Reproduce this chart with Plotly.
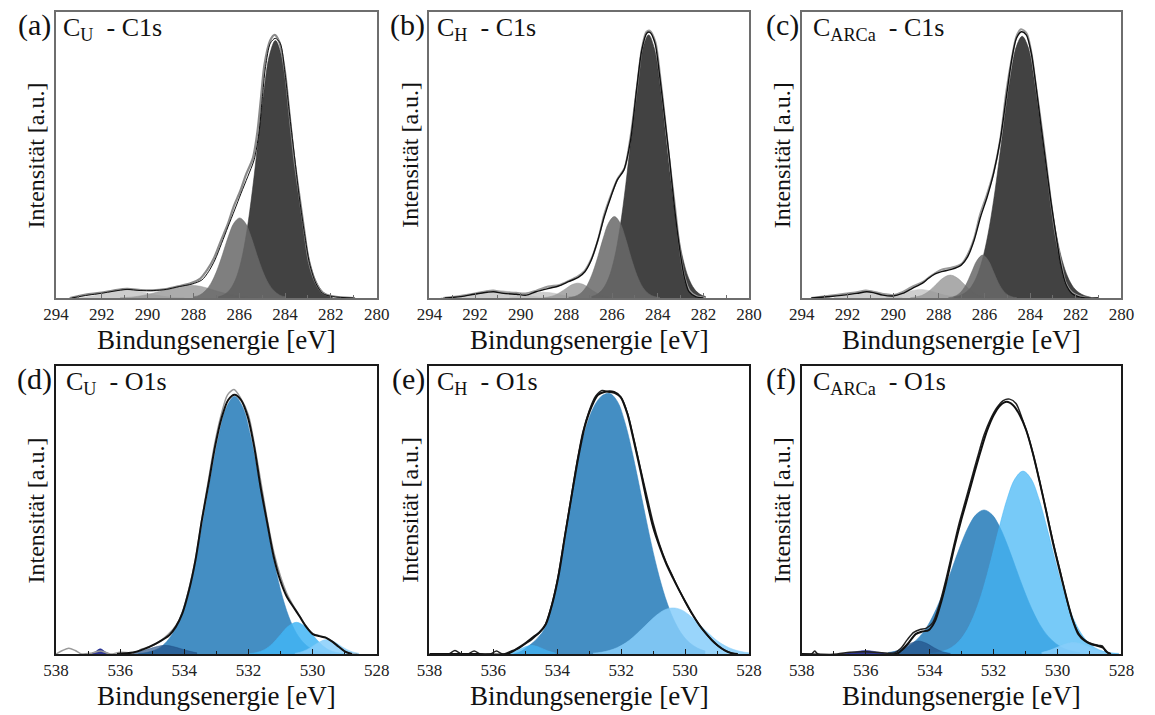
import plotly.graph_objects as go

# ---------------- Panel (a): C_U - C1s ----------------
A_DARK_X = [286.92, 286.67, 286.42, 286.17, 285.92, 285.67, 285.42, 285.17, 284.92, 284.67, 284.42, 284.17, 283.92, 283.67, 283.42, 283.17, 282.92, 282.67, 282.42, 282.17, 281.92]
A_DARK_Y = [0.004, 0.011, 0.028, 0.063, 0.128, 0.233, 0.379, 0.553, 0.725, 0.852, 0.900, 0.852, 0.725, 0.553, 0.379, 0.233, 0.128, 0.063, 0.028, 0.011, 0.004]
A_MED_X = [287.98, 287.73, 287.48, 287.23, 286.98, 286.73, 286.48, 286.23, 285.98, 285.73, 285.48, 285.23, 284.98, 284.73, 284.48, 284.23, 283.98]
A_MED_Y = [0.004, 0.010, 0.025, 0.052, 0.095, 0.152, 0.214, 0.262, 0.280, 0.262, 0.214, 0.152, 0.095, 0.052, 0.025, 0.010, 0.004]
A_LIGHT_X = [291.2, 290.7, 290.2, 289.7, 289.2, 288.7, 288.2, 287.7, 287.2, 286.7, 286.2, 285.7, 285.2]
A_LIGHT_Y = [0.001, 0.003, 0.009, 0.018, 0.030, 0.041, 0.045, 0.041, 0.030, 0.018, 0.009, 0.003, 0.001]
A_PALE_X = [293.4, 292.9, 292.4, 291.9, 291.4, 290.9, 290.4, 289.9, 289.4, 288.9, 288.4]
A_PALE_Y = [0.001, 0.002, 0.007, 0.015, 0.024, 0.028, 0.024, 0.015, 0.007, 0.002, 0.001]
A_ENV_X = [293.32, 292.60, 292.04, 291.47, 290.90, 290.33, 289.76, 289.19, 288.62, 288.05, 287.63, 287.34, 287.06, 286.77, 286.49, 286.20, 285.92, 285.63, 285.35, 285.14, 285.00, 284.85, 284.64, 284.43, 284.21, 284.00, 283.79, 283.57, 283.36, 283.15, 282.93, 282.65, 282.36, 281.93, 280.94]
A_ENV_Y = [0.0, 0.010, 0.016, 0.024, 0.030, 0.026, 0.026, 0.030, 0.040, 0.049, 0.063, 0.092, 0.133, 0.191, 0.249, 0.308, 0.366, 0.424, 0.483, 0.576, 0.692, 0.809, 0.891, 0.908, 0.891, 0.786, 0.634, 0.483, 0.343, 0.226, 0.121, 0.051, 0.016, 0.005, 0.0]
A_MEAS_X = [293.4, 292.7, 292.1, 291.5, 290.9, 290.3, 289.8, 289.2, 288.6, 288.1, 287.7, 287.4, 287.1, 286.8, 286.5, 286.25, 285.95, 285.7, 285.4, 285.2, 285.05, 284.9, 284.65, 284.45, 284.25, 284.0, 283.8, 283.6, 283.35, 283.15, 282.95, 282.65, 282.35, 281.9, 281.0]
A_MEAS_Y = [0.0, 0.012, 0.018, 0.026, 0.032, 0.028, 0.027, 0.031, 0.042, 0.052, 0.068, 0.098, 0.14, 0.2, 0.258, 0.318, 0.375, 0.432, 0.49, 0.585, 0.70, 0.815, 0.9, 0.92, 0.895, 0.79, 0.64, 0.49, 0.345, 0.23, 0.125, 0.053, 0.018, 0.006, 0.0]

# ---------------- Panel (b): C_H - C1s ----------------
B_DARK_X = [286.9, 286.65, 286.4, 286.15, 285.9, 285.65, 285.4, 285.15, 284.9, 284.65, 284.4, 284.15, 283.9, 283.65, 283.4, 283.15, 282.9, 282.65, 282.4, 282.15, 281.9]
B_DARK_Y = [0.005, 0.013, 0.032, 0.070, 0.138, 0.247, 0.396, 0.573, 0.745, 0.873, 0.920, 0.873, 0.745, 0.573, 0.396, 0.247, 0.138, 0.070, 0.032, 0.013, 0.005]
B_MED_X = [287.9, 287.65, 287.4, 287.15, 286.9, 286.65, 286.4, 286.15, 285.9, 285.65, 285.4, 285.15, 284.9, 284.65, 284.4, 284.15, 283.9]
B_MED_Y = [0.002, 0.005, 0.015, 0.037, 0.078, 0.137, 0.206, 0.263, 0.285, 0.263, 0.206, 0.137, 0.078, 0.037, 0.015, 0.005, 0.002]
B_LIGHT_X = [289.0, 288.75, 288.5, 288.25, 288.0, 287.75, 287.5, 287.25, 287.0, 286.75, 286.5, 286.25, 286.0]
B_LIGHT_Y = [0.001, 0.004, 0.010, 0.021, 0.034, 0.047, 0.052, 0.047, 0.034, 0.021, 0.010, 0.004, 0.001]
B_PALE1_X = [293.5, 293.0, 292.5, 292.0, 291.5, 291.0, 290.5, 290.0, 289.5, 289.0, 288.5]
B_PALE1_Y = [0.001, 0.002, 0.006, 0.014, 0.022, 0.026, 0.022, 0.014, 0.006, 0.002, 0.001]
B_PALE2_X = [290.5, 290.0, 289.5, 289.0, 288.5, 288.0, 287.5]
B_PALE2_Y = [0.002, 0.007, 0.016, 0.020, 0.016, 0.007, 0.002]
B_ENV_X = [293.33, 292.62, 292.04, 291.47, 291.19, 290.76, 290.19, 289.76, 289.33, 288.76, 288.34, 287.91, 287.48, 287.19, 286.91, 286.62, 286.34, 286.05, 285.77, 285.48, 285.19, 284.91, 284.70, 284.48, 284.34, 284.12, 283.91, 283.70, 283.48, 283.27, 283.05, 282.84, 282.63, 282.34, 282.0]
B_ENV_Y = [0.0, 0.005, 0.013, 0.020, 0.022, 0.016, 0.013, 0.010, 0.022, 0.034, 0.042, 0.057, 0.072, 0.092, 0.133, 0.203, 0.284, 0.354, 0.413, 0.448, 0.552, 0.739, 0.867, 0.926, 0.929, 0.891, 0.774, 0.634, 0.483, 0.319, 0.179, 0.074, 0.022, 0.005, 0.0]
B_MEAS_X = [293.4, 292.6, 292.0, 291.5, 291.2, 290.8, 290.2, 289.8, 289.3, 288.8, 288.3, 287.9, 287.5, 287.2, 286.9, 286.6, 286.35, 286.05, 285.75, 285.45, 285.2, 284.9, 284.7, 284.5, 284.35, 284.1, 283.9, 283.7, 283.5, 283.25, 283.05, 282.85, 282.6, 282.3, 281.9]
B_MEAS_Y = [0.0, 0.008, 0.016, 0.024, 0.026, 0.02, 0.018, 0.016, 0.026, 0.04, 0.046, 0.06, 0.076, 0.095, 0.138, 0.208, 0.29, 0.36, 0.418, 0.455, 0.56, 0.745, 0.87, 0.93, 0.935, 0.895, 0.78, 0.64, 0.49, 0.325, 0.185, 0.08, 0.025, 0.006, 0.0]

# ---------------- Panel (c): C_ARCa - C1s ----------------
C_DARK_X = [287.35, 287.1, 286.85, 286.6, 286.35, 286.1, 285.85, 285.6, 285.35, 285.1, 284.85, 284.6, 284.35, 284.1, 283.85, 283.6, 283.35, 283.1, 282.85, 282.6, 282.35, 282.1, 281.85, 281.6, 281.35]
C_DARK_Y = [0.003, 0.008, 0.018, 0.037, 0.073, 0.132, 0.221, 0.341, 0.487, 0.642, 0.781, 0.880, 0.915, 0.880, 0.781, 0.642, 0.487, 0.341, 0.221, 0.132, 0.073, 0.037, 0.018, 0.008, 0.003]
C_MED_X = [287.58, 287.33, 287.08, 286.83, 286.58, 286.33, 286.08, 285.83, 285.58, 285.33, 285.08, 284.83, 284.58]
C_MED_Y = [0.001, 0.005, 0.017, 0.044, 0.087, 0.131, 0.150, 0.131, 0.087, 0.044, 0.017, 0.005, 0.001]
C_LIGHT_X = [289.25, 289.0, 288.75, 288.5, 288.25, 288.0, 287.75, 287.5, 287.25, 287.0, 286.75, 286.5, 286.25, 286.0, 285.75]
C_LIGHT_Y = [0.001, 0.004, 0.009, 0.020, 0.037, 0.057, 0.073, 0.080, 0.073, 0.057, 0.037, 0.020, 0.009, 0.004, 0.001]
C_PALE1_X = [292.6, 292.1, 291.6, 291.1, 290.6, 290.1, 289.6]
C_PALE1_Y = [0.003, 0.009, 0.020, 0.026, 0.020, 0.009, 0.003]
C_PALE2_X = [290.3, 289.8, 289.3, 288.8, 288.3, 287.8, 287.3]
C_PALE2_Y = [0.003, 0.011, 0.023, 0.030, 0.023, 0.011, 0.003]
C_ENV_X = [293.58, 292.73, 292.16, 291.59, 291.16, 290.87, 290.45, 290.02, 289.59, 289.16, 288.73, 288.45, 288.16, 287.88, 287.45, 287.02, 286.74, 286.45, 286.17, 285.88, 285.60, 285.31, 285.02, 284.81, 284.60, 284.38, 284.17, 283.95, 283.74, 283.52, 283.31, 283.10, 282.88, 282.67, 282.45, 282.17, 281.89, 281.46, 281.0]
C_ENV_Y = [0.0, 0.005, 0.010, 0.016, 0.022, 0.019, 0.010, 0.007, 0.016, 0.034, 0.051, 0.069, 0.084, 0.092, 0.100, 0.115, 0.144, 0.203, 0.284, 0.354, 0.436, 0.552, 0.716, 0.832, 0.908, 0.931, 0.920, 0.856, 0.739, 0.599, 0.471, 0.343, 0.226, 0.121, 0.051, 0.016, 0.005, 0.0, 0.0]
C_MEAS_X = [293.6, 292.8, 292.2, 291.6, 291.2, 290.9, 290.4, 290.0, 289.6, 289.2, 288.7, 288.4, 288.1, 287.85, 287.45, 287.0, 286.75, 286.45, 286.2, 285.9, 285.6, 285.3, 285.05, 284.8, 284.6, 284.4, 284.15, 283.95, 283.75, 283.5, 283.3, 283.1, 282.9, 282.65, 282.45, 282.15, 281.85, 281.5, 281.0]
C_MEAS_Y = [0.0, 0.008, 0.014, 0.02, 0.026, 0.022, 0.014, 0.01, 0.02, 0.038, 0.056, 0.074, 0.09, 0.1, 0.106, 0.12, 0.15, 0.21, 0.29, 0.36, 0.44, 0.56, 0.72, 0.84, 0.915, 0.94, 0.925, 0.86, 0.745, 0.6, 0.475, 0.345, 0.23, 0.125, 0.055, 0.018, 0.006, 0.0, 0.0]

# ---------------- Panel (d): C_U - O1s ----------------
D_MAIN_X = [535.43, 535.18, 534.93, 534.68, 534.43, 534.18, 533.93, 533.68, 533.43, 533.18, 532.93, 532.68, 532.43, 532.18, 531.93, 531.68, 531.43, 531.18, 530.93, 530.68, 530.43, 530.18, 529.93, 529.68, 529.43]
D_MAIN_Y = [0.002, 0.005, 0.013, 0.029, 0.060, 0.113, 0.195, 0.311, 0.455, 0.612, 0.756, 0.858, 0.895, 0.858, 0.756, 0.612, 0.455, 0.311, 0.195, 0.113, 0.060, 0.029, 0.013, 0.005, 0.002]
D_C2_X = [532.0, 531.75, 531.5, 531.25, 531.0, 530.75, 530.5, 530.25, 530.0, 529.75, 529.5, 529.25, 529.0]
D_C2_Y = [0.001, 0.005, 0.015, 0.036, 0.067, 0.097, 0.110, 0.097, 0.067, 0.036, 0.015, 0.005, 0.001]
D_C3_X = [530.55, 530.3, 530.05, 529.8, 529.55, 529.3, 529.05, 528.8, 528.55]
D_C3_Y = [0.002, 0.009, 0.023, 0.041, 0.050, 0.041, 0.023, 0.009, 0.002]
D_N1_X = [535.6, 535.35, 535.1, 534.85, 534.6, 534.35, 534.1, 533.85, 533.6]
D_N1_Y = [0.004, 0.010, 0.018, 0.026, 0.030, 0.026, 0.018, 0.010, 0.004]
D_N2_X = [536.92, 536.77, 536.62, 536.47, 536.32]
D_N2_Y = [0.0, 0.008, 0.018, 0.008, 0.0]
D_ENV_X = [536.1, 535.6, 535.28, 534.87, 534.46, 534.26, 534.06, 533.85, 533.65, 533.45, 533.24, 533.04, 532.84, 532.63, 532.43, 532.23, 532.02, 531.82, 531.62, 531.41, 531.21, 531.01, 530.80, 530.60, 530.40, 530.20, 529.99, 529.79, 529.59, 529.38, 529.18, 528.98, 528.77]
D_ENV_Y = [0.0, 0.005, 0.016, 0.037, 0.066, 0.095, 0.141, 0.222, 0.326, 0.465, 0.593, 0.720, 0.818, 0.882, 0.900, 0.882, 0.824, 0.720, 0.580, 0.454, 0.338, 0.257, 0.199, 0.164, 0.130, 0.095, 0.069, 0.062, 0.057, 0.043, 0.025, 0.008, 0.0]
D_MEAS_X = [538.0, 537.8, 537.6, 537.4, 537.2, 536.9, 536.6, 536.3, 536.0, 535.6, 535.3, 534.9, 534.5, 534.25, 534.05, 533.85, 533.65, 533.45, 533.25, 533.05, 532.85, 532.65, 532.45, 532.25, 532.0, 531.8, 531.6, 531.4, 531.2, 531.0, 530.8, 530.6, 530.4, 530.2, 530.0, 529.8, 529.6, 529.4, 529.2, 529.0, 528.8, 528.6]
D_MEAS_Y = [0.0, 0.012, 0.02, 0.012, 0.0, 0.003, 0.01, 0.0, 0.006, 0.004, 0.018, 0.034, 0.068, 0.1, 0.146, 0.228, 0.33, 0.47, 0.6, 0.73, 0.83, 0.9, 0.918, 0.89, 0.83, 0.72, 0.59, 0.46, 0.35, 0.27, 0.21, 0.168, 0.132, 0.097, 0.071, 0.064, 0.058, 0.044, 0.026, 0.01, 0.0, 0.0]

# ---------------- Panel (e): C_H - O1s ----------------
E_MAIN_X = [535.37, 535.12, 534.87, 534.62, 534.37, 534.12, 533.87, 533.62, 533.37, 533.12, 532.87, 532.62, 532.37, 532.12, 531.87, 531.62, 531.37, 531.12, 530.87, 530.62, 530.37, 530.12, 529.87, 529.62, 529.37]
E_MAIN_Y = [0.0, 0.010, 0.030, 0.055, 0.095, 0.190, 0.320, 0.500, 0.665, 0.780, 0.855, 0.895, 0.905, 0.877, 0.799, 0.683, 0.549, 0.414, 0.294, 0.196, 0.123, 0.072, 0.040, 0.021, 0.010]
E_C2_X = [532.88, 532.63, 532.38, 532.13, 531.88, 531.63, 531.38, 531.13, 530.88, 530.63, 530.38, 530.13, 529.88, 529.63, 529.38, 529.13, 528.88, 528.63, 528.38, 528.13, 527.88]
E_C2_Y = [0.003, 0.006, 0.012, 0.022, 0.037, 0.058, 0.084, 0.111, 0.136, 0.154, 0.160, 0.154, 0.136, 0.111, 0.084, 0.058, 0.037, 0.022, 0.012, 0.006, 0.003]
E_C3_X = [535.55, 535.3, 535.05, 534.8, 534.55, 534.3, 534.05]
E_C3_Y = [0.003, 0.011, 0.023, 0.030, 0.023, 0.011, 0.003]
E_ENV_X = [538.0, 536.5, 535.58, 535.38, 535.18, 534.97, 534.77, 534.57, 534.36, 534.16, 533.95, 533.75, 533.54, 533.34, 533.14, 532.93, 532.73, 532.53, 532.22, 532.02, 531.81, 531.61, 531.40, 531.20, 531.00, 530.79, 530.59, 530.39, 530.18, 529.98, 529.77, 529.57, 529.37, 529.16, 528.96, 528.76, 528.55, 528.35]
E_ENV_Y = [0.0, 0.0, 0.0, 0.010, 0.024, 0.040, 0.057, 0.074, 0.103, 0.173, 0.278, 0.417, 0.556, 0.684, 0.789, 0.858, 0.899, 0.910, 0.910, 0.893, 0.835, 0.742, 0.638, 0.533, 0.440, 0.370, 0.313, 0.266, 0.220, 0.179, 0.138, 0.103, 0.074, 0.048, 0.028, 0.013, 0.003, 0.0]
E_MEAS_X = [538.0, 537.4, 537.2, 537.0, 536.8, 536.6, 536.4, 536.1, 535.9, 535.7, 535.4, 535.2, 535.0, 534.8, 534.6, 534.4, 534.2, 534.0, 533.8, 533.6, 533.4, 533.2, 533.0, 532.8, 532.6, 532.4, 532.2, 532.0, 531.8, 531.6, 531.4, 531.2, 531.0, 530.8, 530.6, 530.4, 530.2, 530.0, 529.8, 529.6, 529.4, 529.2, 529.0, 528.8, 528.6, 528.4]
E_MEAS_Y = [0.0, 0.0, 0.012, 0.0, 0.0, 0.01, 0.0, 0.0, 0.01, 0.0, 0.012, 0.02, 0.035, 0.05, 0.07, 0.095, 0.16, 0.255, 0.385, 0.52, 0.655, 0.77, 0.845, 0.895, 0.915, 0.91, 0.905, 0.89, 0.835, 0.745, 0.645, 0.55, 0.455, 0.38, 0.32, 0.272, 0.225, 0.182, 0.142, 0.108, 0.078, 0.052, 0.031, 0.015, 0.005, 0.0]

# ---------------- Panel (f): C_ARCa - O1s ----------------
F_MAIN_X = [535.3, 535.05, 534.8, 534.55, 534.3, 534.05, 533.8, 533.55, 533.3, 533.05, 532.8, 532.55, 532.3, 532.05, 531.8, 531.55, 531.3, 531.05, 530.8, 530.55, 530.3, 530.05, 529.8, 529.55, 529.3]
F_MAIN_Y = [0.005, 0.010, 0.019, 0.036, 0.062, 0.101, 0.155, 0.222, 0.297, 0.373, 0.439, 0.484, 0.500, 0.484, 0.439, 0.373, 0.297, 0.222, 0.155, 0.101, 0.062, 0.036, 0.019, 0.010, 0.005]
F_C2_X = [534.08, 533.83, 533.58, 533.33, 533.08, 532.83, 532.58, 532.33, 532.08, 531.83, 531.58, 531.33, 531.08, 530.83, 530.58, 530.33, 530.08, 529.83, 529.58, 529.33, 529.08, 528.83, 528.58, 528.33, 528.08]
F_C2_Y = [0.002, 0.004, 0.010, 0.022, 0.045, 0.084, 0.144, 0.226, 0.328, 0.438, 0.538, 0.609, 0.635, 0.609, 0.538, 0.438, 0.328, 0.226, 0.144, 0.084, 0.045, 0.022, 0.010, 0.004, 0.002]
F_C3_X = [535.35, 535.1, 534.85, 534.6, 534.35, 534.1, 533.85, 533.6, 533.35]
F_C3_Y = [0.002, 0.008, 0.021, 0.037, 0.045, 0.037, 0.021, 0.008, 0.002]
F_N1_X = [536.75, 536.5, 536.25, 536.0, 535.75, 535.5, 535.25]
F_N1_Y = [0.001, 0.004, 0.009, 0.012, 0.009, 0.004, 0.001]
F_C4_X = [530.5, 530.25, 530.0, 529.75, 529.5, 529.25, 529.0, 528.75, 528.5]
F_C4_Y = [0.005, 0.013, 0.024, 0.035, 0.040, 0.035, 0.024, 0.013, 0.005]
F_ENV_X = [538.0, 535.05, 534.85, 534.65, 534.44, 534.24, 534.03, 533.83, 533.63, 533.42, 533.22, 533.02, 532.81, 532.61, 532.40, 532.20, 532.00, 531.79, 531.59, 531.39, 531.18, 530.98, 530.77, 530.57, 530.36, 530.16, 529.96, 529.75, 529.55, 529.35, 529.14, 528.94, 528.73, 528.58, 528.43, 528.33]
F_ENV_Y = [0.0, 0.0, 0.016, 0.040, 0.069, 0.078, 0.083, 0.115, 0.185, 0.278, 0.376, 0.463, 0.545, 0.626, 0.707, 0.777, 0.829, 0.864, 0.876, 0.864, 0.829, 0.777, 0.696, 0.603, 0.498, 0.394, 0.301, 0.208, 0.126, 0.069, 0.045, 0.034, 0.028, 0.022, 0.005, 0.0]
F_MEAS_X = [538.0, 537.7, 537.6, 537.5, 536.9, 536.5, 536.0, 535.5, 535.1, 534.9, 534.7, 534.5, 534.3, 534.1, 533.9, 533.7, 533.5, 533.3, 533.1, 532.9, 532.7, 532.5, 532.3, 532.1, 531.9, 531.7, 531.5, 531.3, 531.1, 530.9, 530.7, 530.5, 530.3, 530.1, 529.9, 529.7, 529.5, 529.3, 529.1, 528.9, 528.7, 528.6, 528.5, 528.35]
F_MEAS_Y = [0.0, 0.0, 0.01, 0.0, 0.0, 0.006, 0.008, 0.004, 0.004, 0.02, 0.05, 0.075, 0.085, 0.09, 0.11, 0.17, 0.255, 0.35, 0.445, 0.525, 0.605, 0.685, 0.76, 0.815, 0.855, 0.88, 0.885, 0.87, 0.815, 0.75, 0.665, 0.57, 0.47, 0.37, 0.28, 0.185, 0.11, 0.065, 0.045, 0.035, 0.03, 0.028, 0.01, 0.0]

PANEL_LETTERS = ["(a)", "(b)", "(c)", "(d)", "(e)", "(f)"]
PANEL_TITLES = ["C<sub>U</sub>  - C1s", "C<sub>H</sub>  - C1s", "C<sub>ARCa</sub>  - C1s",
                "C<sub>U</sub>  - O1s", "C<sub>H</sub>  - O1s", "C<sub>ARCa</sub>  - O1s"]
C1S_TICKS = [294, 292, 290, 288, 286, 284, 282, 280]
O1S_TICKS = [538, 536, 534, 532, 530, 528]
X_TITLE = "Bindungsenergie [eV]"
Y_TITLE = "Intensität [a.u.]"

# styles
DARK = "rgba(50,50,50,0.92)"
MED = "rgba(105,105,105,0.85)"
LIGHT = "rgba(150,150,150,0.8)"
PALE = "rgba(190,190,190,0.75)"
BLUE = "rgba(52,132,190,0.92)"
SKY = "rgba(66,181,245,0.72)"
SKY2 = "rgba(135,206,250,0.85)"
NAVY = "rgba(30,75,130,0.65)"
INDIGO = "rgba(25,35,140,0.9)"

panels = [
    dict(comps=[(A_PALE_X, A_PALE_Y, PALE), (A_LIGHT_X, A_LIGHT_Y, LIGHT), (A_DARK_X, A_DARK_Y, DARK), (A_MED_X, A_MED_Y, MED)],
         lines=[(A_MEAS_X, A_MEAS_Y, "#8a8a8a", 2.2), (A_ENV_X, A_ENV_Y, "#111111", 1.0)]),
    dict(comps=[(B_PALE1_X, B_PALE1_Y, PALE), (B_PALE2_X, B_PALE2_Y, PALE), (B_LIGHT_X, B_LIGHT_Y, LIGHT), (B_DARK_X, B_DARK_Y, DARK), (B_MED_X, B_MED_Y, MED)],
         lines=[(B_MEAS_X, B_MEAS_Y, "#9a9a9a", 2.0), (B_ENV_X, B_ENV_Y, "#111111", 1.4)]),
    dict(comps=[(C_PALE1_X, C_PALE1_Y, PALE), (C_PALE2_X, C_PALE2_Y, PALE), (C_LIGHT_X, C_LIGHT_Y, LIGHT), (C_DARK_X, C_DARK_Y, DARK), (C_MED_X, C_MED_Y, MED)],
         lines=[(C_MEAS_X, C_MEAS_Y, "#9a9a9a", 2.0), (C_ENV_X, C_ENV_Y, "#111111", 1.4)]),
    dict(comps=[(D_MAIN_X, D_MAIN_Y, BLUE), (D_C2_X, D_C2_Y, "rgba(66,181,245,0.85)"), (D_C3_X, D_C3_Y, SKY2), (D_N1_X, D_N1_Y, NAVY), (D_N2_X, D_N2_Y, INDIGO)],
         lines=[(D_MEAS_X, D_MEAS_Y, "#9a9a9a", 1.5), (D_ENV_X, D_ENV_Y, "#111111", 2.0)]),
    dict(comps=[(E_MAIN_X, E_MAIN_Y, BLUE), (E_C2_X, E_C2_Y, SKY2), (E_C3_X, E_C3_Y, SKY)],
         lines=[(E_MEAS_X, E_MEAS_Y, "#222222", 1.5), (E_ENV_X, E_ENV_Y, "#111111", 2.0)]),
    dict(comps=[(F_N1_X, F_N1_Y, INDIGO), (F_MAIN_X, F_MAIN_Y, BLUE), (F_C2_X, F_C2_Y, SKY), (F_C4_X, F_C4_Y, SKY2), (F_C3_X, F_C3_Y, NAVY)],
         lines=[(F_MEAS_X, F_MEAS_Y, "#222222", 1.5), (F_ENV_X, F_ENV_Y, "#111111", 2.0)]),
]

W, H = 1155, 715
COLS = [(44, 372), (426, 753), (807, 1134)]
ROWS = [(12, 298), (366, 654)]
LETTER_X = [22, 404, 787, 22, 405, 786]
TITLE_X = [49, 432, 816, 52, 432, 816]
FONT = "Liberation Serif"

fig = go.Figure()
layout = dict(width=W, height=H, margin=dict(l=0, r=0, t=0, b=0), paper_bgcolor="white",
              plot_bgcolor="white", showlegend=False)
annotations = []

for i, p in enumerate(panels):
    r, c = divmod(i, 3)
    n = i + 1
    xa = "x" if n == 1 else f"x{n}"
    ya = "y" if n == 1 else f"y{n}"
    for (xs, ys, col) in p["comps"]:
        fig.add_trace(go.Scatter(x=xs, y=ys, mode="lines", xaxis=xa, yaxis=ya,
                                 line=dict(width=0.6, color=col, shape="spline"),
                                 fill="tozeroy", fillcolor=col, hoverinfo="skip"))
    for (xs, ys, col, w) in p["lines"]:
        fig.add_trace(go.Scatter(x=xs, y=ys, mode="lines", xaxis=xa, yaxis=ya,
                                 line=dict(width=w, color=col, shape="spline", smoothing=0.8),
                                 hoverinfo="skip"))
    x0, x1 = COLS[c]
    yt, yb = ROWS[r]
    frame_col = "#6e6e6e" if r == 0 else "#1a1a1a"
    frame_w = 1.5 if r == 0 else 2
    ticks = C1S_TICKS if r == 0 else O1S_TICKS
    layout["xaxis" if n == 1 else f"xaxis{n}"] = dict(
        domain=[x0 / W, x1 / W], anchor=ya, range=[ticks[0], ticks[-1]],
        tickvals=ticks, ticks="inside", ticklen=5, tickwidth=1.2, tickcolor=frame_col,
        minor=dict(dtick=1, ticks="inside", ticklen=3, tickwidth=1, tickcolor=frame_col),
        showline=True, mirror=True, linecolor=frame_col, linewidth=frame_w,
        showgrid=False, zeroline=False,
        tickfont=dict(family=FONT, size=17, color="#222"))
    layout["yaxis" if n == 1 else f"yaxis{n}"] = dict(
        domain=[(H - yb) / H, (H - yt) / H], anchor=xa, range=[0, 1],
        showline=True, mirror=True, linecolor=frame_col, linewidth=frame_w,
        showticklabels=False, ticks="", showgrid=False, zeroline=False)
    # texts
    annotations.append(dict(text=PANEL_LETTERS[i], x=LETTER_X[i] / W, y=(H - (yt + 13)) / H,
                            xref="paper", yref="paper", xanchor="center", yanchor="middle",
                            showarrow=False, font=dict(family=FONT, size=30, color="#111")))
    annotations.append(dict(text=PANEL_TITLES[i], x=TITLE_X[i] / W, y=(H - (yt + 17)) / H,
                            xref="paper", yref="paper", xanchor="left", yanchor="middle",
                            showarrow=False, font=dict(family=FONT, size=26, color="#111")))
    annotations.append(dict(text=X_TITLE, x=(x0 + x1) / 2 / W, y=(H - (yb + 42)) / H,
                            xref="paper", yref="paper", xanchor="center", yanchor="middle",
                            showarrow=False, font=dict(family=FONT, size=27, color="#111")))
    annotations.append(dict(text=Y_TITLE, x=(x0 - 20) / W, y=(H - (yt + yb) / 2) / H,
                            xref="paper", yref="paper", xanchor="center", yanchor="middle",
                            showarrow=False, textangle=-90,
                            font=dict(family=FONT, size=24, color="#111")))

layout["annotations"] = annotations
fig.update_layout(**layout)
fig.write_html("out.html")
